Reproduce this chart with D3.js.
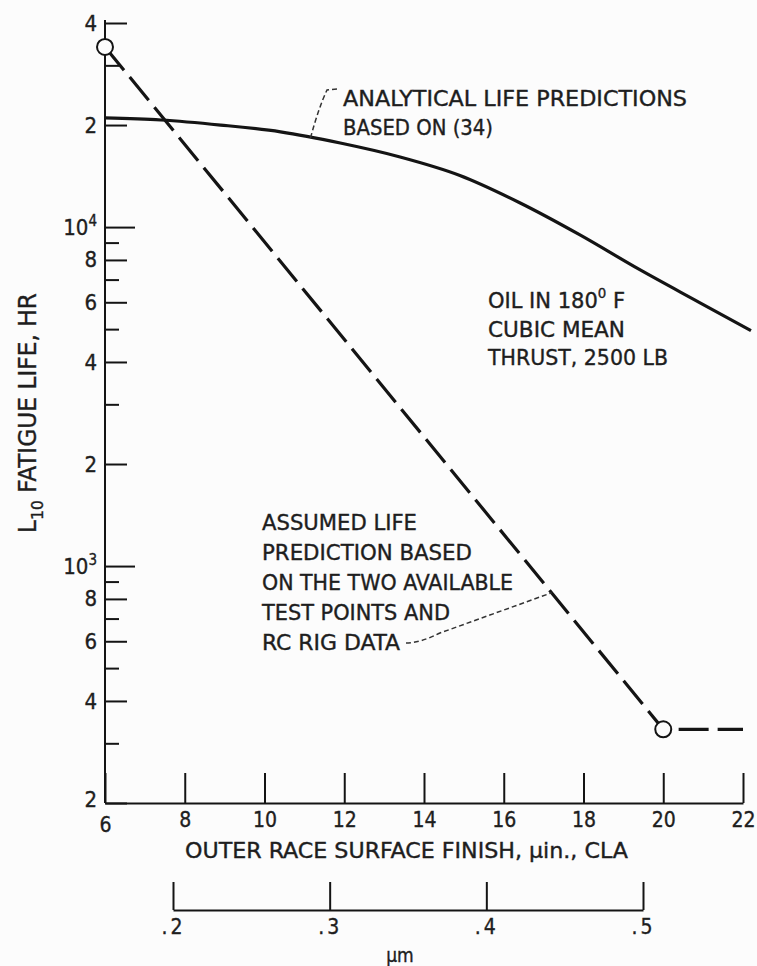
<!DOCTYPE html>
<html><head><meta charset="utf-8">
<script src="https://cdn.jsdelivr.net/npm/d3@7"></script>
<style>
body{margin:0;background:#fcfcfc;}
svg text{font-family:"Liberation Sans Narrow","DejaVu Sans Condensed","Arial Narrow","DejaVu Sans",sans-serif;fill:#1e1e1e;stroke:#1e1e1e;stroke-width:0.35px;}
</style></head><body>
<svg id="chart" width="757" height="966"></svg>
<script>
// ---- data ----
const finishTicks = [6, 8, 10, 12, 14, 16, 18, 20, 22];
const micronTicks = [0.2, 0.3, 0.4, 0.5];
const lifeTicksMajor = [1000, 10000];
const lifeTicksLabeled = [200, 400, 600, 800, 2000, 4000, 6000, 8000, 20000, 40000];
const lifeTicksMinor = [300, 500, 700, 900, 3000, 5000, 7000, 9000, 30000];
const analyticalFinish = [6, 7.4, 8.9, 10.4, 11.9, 13.4, 14.9, 16.4, 17.9, 19.4, 20.9, 22.2];
const analyticalLife = [21000, 20700, 20000, 19100, 17700, 16100, 14200, 11800, 9500, 7500, 6000, 4950];
const assumedFinish = [6, 20, 22];
const assumedLife = [34000, 330, 330];
const testFinish = [6, 20];
const testLife = [34000, 330];

const svg = d3.select("#chart");
const x = d3.scaleLinear().domain([6, 22]).range([105, 743]);
const y = d3.scaleLog().domain([200, 40000]).range([803, 23]);
const xm = d3.scaleLinear().domain([0.2, 0.5]).range([173, 643]);
const ink = "#141414";

// ---- y axis ----
const allY = [...lifeTicksMajor, ...lifeTicksLabeled, ...lifeTicksMinor].sort((a,b)=>a-b);
const tickLen = v => lifeTicksMajor.includes(v) ? 30 : (lifeTicksLabeled.includes(v) ? 22 : 14);
const yAxis = d3.axisLeft(y).tickValues(allY).tickSizeInner(-22).tickSizeOuter(0).tickPadding(8).tickFormat("");
const gy = svg.append("g").attr("transform", "translate(105,0)").call(yAxis);
gy.select(".domain").attr("stroke", ink).attr("stroke-width", 2).attr("d", "M0,20V803");
gy.selectAll(".tick line").attr("x2", d => tickLen(d)).attr("stroke", ink).attr("stroke-width", 2);
gy.selectAll(".tick text").each(function(d) {
  const t = d3.select(this).attr("font-size", 22).attr("fill", "#1e1e1e");
  if (lifeTicksMajor.includes(d)) {
    t.append("tspan").text("10");
    t.append("tspan").attr("font-size", 15).attr("dy", -9).text(String(Math.round(Math.log10(d))));
  } else if (lifeTicksLabeled.includes(d)) {
    t.text(String(d).charAt(0));
  }
});
gy.selectAll(".tick").filter(d => d === 200).select("text").attr("dy", "0.15em");

// ---- x axis (µin) ----
const xAxis = d3.axisBottom(x).tickValues(finishTicks).tickSizeInner(-30).tickSizeOuter(0).tickPadding(9).tickFormat(d3.format("d"));
const gx = svg.append("g").attr("transform", "translate(0,803)").call(xAxis);
gx.select(".domain").attr("stroke", ink).attr("stroke-width", 2);
gx.selectAll(".tick line").attr("stroke", ink).attr("stroke-width", 2);
gx.selectAll(".tick text").attr("font-size", 21).attr("fill", "#1e1e1e");
gx.selectAll(".tick").filter(d => d === 6).select("text").attr("dy", "0.95em");

svg.append("text").attr("x", 185).attr("y", 858).attr("font-size", 21)
  .attr("textLength", 443).attr("lengthAdjust", "spacingAndGlyphs")
  .text("OUTER RACE SURFACE FINISH, µin., CLA");

// ---- x axis (µm) ----
const mAxis = d3.axisBottom(xm).tickValues(micronTicks).tickSizeInner(-28).tickSizeOuter(0).tickPadding(9)
  .tickFormat(d => d3.format(".1f")(d).replace(/^0/, ""));
const gm = svg.append("g").attr("transform", "translate(0,910)").call(mAxis);
gm.select(".domain").attr("stroke", ink).attr("stroke-width", 2);
gm.selectAll(".tick line").attr("stroke", ink).attr("stroke-width", 2);
gm.selectAll(".tick text").attr("font-size", 21).attr("fill", "#1e1e1e").attr("letter-spacing", 3);
svg.append("text").attr("x", 400).attr("y", 962).attr("text-anchor", "middle").attr("font-size", 19).text("µm");

// ---- y title ----
const yt = svg.append("text").attr("transform", "translate(36,413) rotate(-90)")
  .attr("text-anchor", "middle").attr("font-size", 24)
  .attr("textLength", 240).attr("lengthAdjust", "spacingAndGlyphs");
yt.append("tspan").text("L");
yt.append("tspan").attr("font-size", 16).attr("dy", 7).text("10");
yt.append("tspan").attr("dy", -7).text(" FATIGUE LIFE, HR");

// ---- curves ----
const analytical = analyticalFinish.map((f, i) => [f, analyticalLife[i]]);
svg.append("path").datum(analytical)
  .attr("d", d3.line().x(d => x(d[0])).y(d => y(d[1])).curve(d3.curveMonotoneX))
  .attr("fill", "none").attr("stroke", ink).attr("stroke-width", 3.2);

const assumed = assumedFinish.map((f, i) => [f, assumedLife[i]]);
svg.append("path").datum(assumed)
  .attr("d", d3.line().x(d => x(d[0])).y(d => y(d[1])))
  .attr("fill", "none").attr("stroke", ink).attr("stroke-width", 3.2)
  .attr("stroke-dasharray", "30,9");

svg.selectAll("circle.test").data(testFinish.map((f, i) => [f, testLife[i]])).join("circle")
  .attr("class", "test").attr("cx", d => x(d[0])).attr("cy", d => y(d[1])).attr("r", 8)
  .attr("fill", "#fcfcfc").attr("stroke", ink).attr("stroke-width", 2);

// ---- annotations ----
function block(x0, y0, lines, dy) {
  lines.forEach((l, i) => {
    const t = svg.append("text").attr("x", x0).attr("y", y0 + i * dy).attr("font-size", 22);
    if (l.w) t.attr("textLength", l.w).attr("lengthAdjust", "spacingAndGlyphs");
    if (l.parts) l.parts.forEach(p => {
      const s = t.append("tspan").text(p.t);
      if (p.sup) s.attr("font-size", 14).attr("dy", -10);
      if (p.back) s.attr("dy", 10);
    });
    else t.text(l.t);
  });
}
block(343, 106, [{t: "ANALYTICAL LIFE PREDICTIONS", w: 344}, {t: "BASED ON (34)", w: 150}], 29);
block(488, 308, [
  {parts: [{t: "OIL IN 180"}, {t: "0", sup: true}, {t: " F", back: true}], w: 137},
  {t: "CUBIC MEAN", w: 137},
  {t: "THRUST, 2500 LB", w: 180}], 28.5);
block(262, 530, [
  {t: "ASSUMED LIFE", w: 155},
  {t: "PREDICTION BASED", w: 210},
  {t: "ON THE TWO AVAILABLE", w: 251},
  {t: "TEST POINTS AND", w: 188},
  {t: "RC RIG DATA", w: 138}], 30);

// leader 1: to analytical curve near 11.15 µin
const l1 = [x(11.15), y(18250)];
svg.append("path")
  .attr("d", `M337,89 L327,90 Q${l1[0]+8},${l1[1]-30} ${l1[0]},${l1[1]}`)
  .attr("fill", "none").attr("stroke", "#333").attr("stroke-width", 1.5).attr("stroke-dasharray", "5,3");
// leader 2: to assumed line at 80% of its sloped segment
const p0 = [x(assumedFinish[0]), y(assumedLife[0])], p1 = [x(assumedFinish[1]), y(assumedLife[1])];
const t2 = 0.8;
const l2 = [p0[0] + (p1[0]-p0[0])*t2, p0[1] + (p1[1]-p0[1])*t2];
svg.append("path")
  .attr("d", `M406,643 Q420,643 440,633 L${l2[0]},${l2[1]}`)
  .attr("fill", "none").attr("stroke", "#333").attr("stroke-width", 1.5).attr("stroke-dasharray", "5,3");
</script>
</body></html>
